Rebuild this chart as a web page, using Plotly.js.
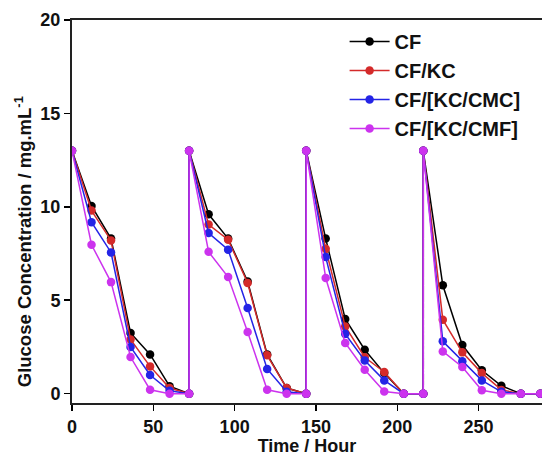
<!DOCTYPE html>
<html>
<head>
<meta charset="utf-8">
<script src="https://cdn.plot.ly/plotly-3.0.1.min.js"></script>
<style>html,body{margin:0;padding:0;background:#fff;}#chart{width:542px;height:456px;}</style>
</head>
<body>
<div id="chart"></div>
<script>
// Time points (hours); each feeding cycle restarts at 72, 144, 216 h
const timeHours = [0,12,24,36,48,60,72, 72,84,96,108,120,132,144, 144,156,168,180,192,204,216, 216,228,240,252,264,276,288];

const seriesNames = ["CF", "CF/KC", "CF/[KC/CMC]", "CF/[KC/CMF]"];

const cfValues =       [13,10.05,8.3,3.25,2.1,0.4,0,  13,9.6,8.3,6.0,2.1,0.3,0,  13,8.3,4.0,2.35,1.1,0,0,  13,5.8,2.6,1.25,0.42,0,0];
const cfKcValues =     [13,9.8,8.2,2.9,1.46,0.3,0,    13,9.05,8.24,5.92,2.05,0.3,0, 13,7.75,3.6,1.95,1.16,0,0, 13,3.96,2.21,1.1,0.2,0,0];
const cfKcCmcValues =  [13,9.18,7.56,2.5,1.0,0.15,0,  13,8.6,7.7,4.58,1.32,0.1,0,  13,7.31,3.2,1.78,0.71,0,0, 13,2.8,1.73,0.71,0.1,0,0];
const cfKcCmfValues =  [13,7.97,5.97,1.96,0.21,0,0,   13,7.59,6.24,3.3,0.21,0,0,   13,6.19,2.71,1.28,0.12,0,0, 13,2.26,1.43,0.18,0,0,0];

const seriesColors = ["#000000", "#d42a2a", "#2424e6", "#cc33ee"];
const allValues = [cfValues, cfKcValues, cfKcCmcValues, cfKcCmfValues];

const FONT = "Liberation Sans, Arial, sans-serif";

const traces = seriesNames.map((name, i) => ({
  type: "scatter",
  mode: "lines+markers",
  name: name,
  x: timeHours,
  y: allValues[i],
  line: {color: seriesColors[i], width: 1.5},
  marker: {color: seriesColors[i], size: 8.5, symbol: "circle"}
}));

const layout = {
  width: 542,
  height: 456,
  margin: {l: 72, r: 0, t: 20, b: 53},
  paper_bgcolor: "#ffffff",
  plot_bgcolor: "#ffffff",
  showlegend: true,
  font: {family: FONT, size: 18, color: "#000", weight: 700},
  xaxis: {
    range: [0, 289],
    tickvals: [0, 50, 100, 150, 200, 250],
    ticks: "outside",
    ticklen: 6,
    tickwidth: 1.5,
    tickcolor: "#000",
    showline: true,
    linewidth: 2,
    linecolor: "#222",
    mirror: true,
    showgrid: false,
    zeroline: false,
    tickfont: {family: FONT, size: 18, color: "#111", weight: 700},
    title: {text: "Time / Hour", font: {family: FONT, size: 18, color: "#111", weight: 700}, standoff: 9}
  },
  yaxis: {
    range: [-0.5, 20],
    tickvals: [0, 5, 10, 15, 20],
    ticks: "outside",
    ticklen: 6,
    tickwidth: 1.5,
    tickcolor: "#000",
    showline: true,
    linewidth: 2,
    linecolor: "#222",
    mirror: false,
    showgrid: false,
    zeroline: false,
    tickfont: {family: FONT, size: 18, color: "#111", weight: 700}
  },
  annotations: [{
    text: "Glucose Concentration / mg.mL<sup>-1</sup>",
    textangle: -90,
    xref: "paper", yref: "paper",
    x: -0.104, y: 0.42,
    xanchor: "center", yanchor: "middle",
    showarrow: false,
    font: {family: FONT, size: 18.5, color: "#111", weight: 700}
  }],
  legend: {
    x: 0.58, y: 0.995,
    xanchor: "left", yanchor: "top",
    bgcolor: "rgba(0,0,0,0)",
    font: {family: FONT, size: 20, color: "#111", weight: 700},
    tracegroupgap: 0,
    itemwidth: 40
  }
};

Plotly.newPlot("chart", traces, layout, {displayModeBar: false, staticPlot: true});
</script>
</body>
</html>
